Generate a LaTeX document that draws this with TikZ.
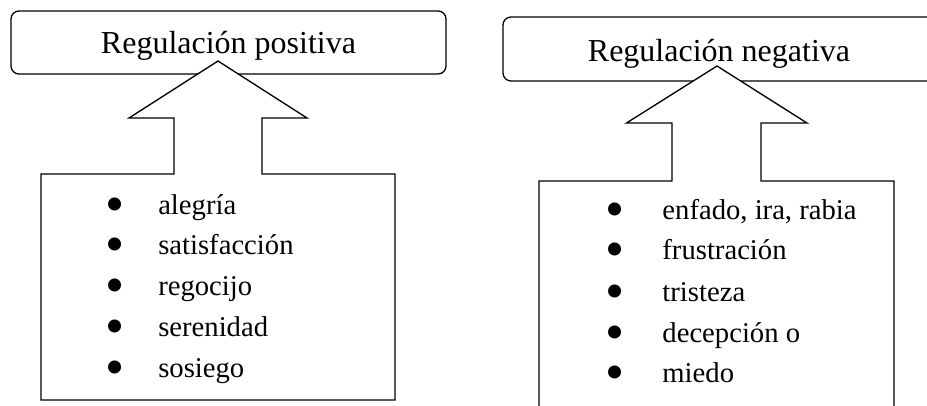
\documentclass[tikz,border=0pt]{standalone}
\usepackage{fontspec}
\setmainfont{Liberation Serif}
\usetikzlibrary{positioning,calc}

\newcommand{\bul}[1][36pt]{\makebox[#1][l]{\makebox[7.5pt][c]{\smash{\raisebox{-6.3pt}{\scalebox{1.9}{\textbullet}}}}}}

\begin{document}
\begin{tikzpicture}[
    x=0.75pt, y=0.75pt,
    titlebox/.style={draw, line width=1pt, rounded corners=6pt, align=center, font=\fontsize{24}{28}\selectfont, text height=16pt, text depth=0pt},
    listbox/.style={inner sep=0pt, outer sep=0pt},
    outline/.style={draw, fill=white, line width=1pt, line join=miter},
    item/.style={anchor=base west, inner sep=0pt, font=\fontsize{21.5}{26}\selectfont}
]
    \clip (0,0) rectangle (927,405);

    % Titles
    \node[titlebox, minimum width=326.25pt, minimum height=47.25pt] (pos) at (228.5,362.5) {Regulación positiva};
    \node[titlebox, minimum width=324pt, minimum height=48pt, text height=18pt] (neg) at (719,356) {Regulación negativa};

    % List boxes
    \node[listbox, minimum width=265.5pt, minimum height=169.5pt] (posbox) at (218,118) {};
    \node[listbox, minimum width=266.25pt, minimum height=179.25pt] (negbox) at (716.5,104.5) {};

    % Box with arrow, positive
    \draw[outline] (posbox.north west) -- ($(posbox.north)+(-44,0)$) -- ++(0,56) -- ++(-45,0)
        -- ($(posbox.north)+(0,113)$) -- ++(89,-57) -- ++(-45,0) -- ++(0,-56)
        -- (posbox.north east) -- (posbox.south east) -- (posbox.south west) -- cycle;

    % Box with arrow, negative
    \draw[outline] (negbox.north west) -- ($(negbox.north)+(-44.5,0)$) -- ++(0,58) -- ++(-45.5,0)
        -- ($(negbox.north)+(0.5,115)$) -- ++(90,-57) -- ++(-46,0) -- ++(0,-58)
        -- (negbox.north east) -- (negbox.south east) -- (negbox.south west) -- cycle;

    % Positive items
    \node[item] (p1) at (110,191) {\bul alegría};
    \node[item] (p2) at (110,150.5) {\bul satisfacción};
    \node[item] (p3) at (110,110) {\bul regocijo};
    \node[item] (p4) at (110,69) {\bul serenidad};
    \node[item] (p5) at (110,28) {\bul sosiego};

    % Negative items
    \node[item] (n1) at (610,186) {\bul[33.75pt] enfado, ira, rabia};
    \node[item] (n2) at (610,146) {\bul[33.75pt] frustración};
    \node[item] (n3) at (610,104) {\bul[33.75pt] tristeza};
    \node[item] (n4) at (610,63) {\bul[33.75pt] decepción o};
    \node[item] (n5) at (610,23) {\bul[33.75pt] miedo};

\end{tikzpicture}
\end{document}
